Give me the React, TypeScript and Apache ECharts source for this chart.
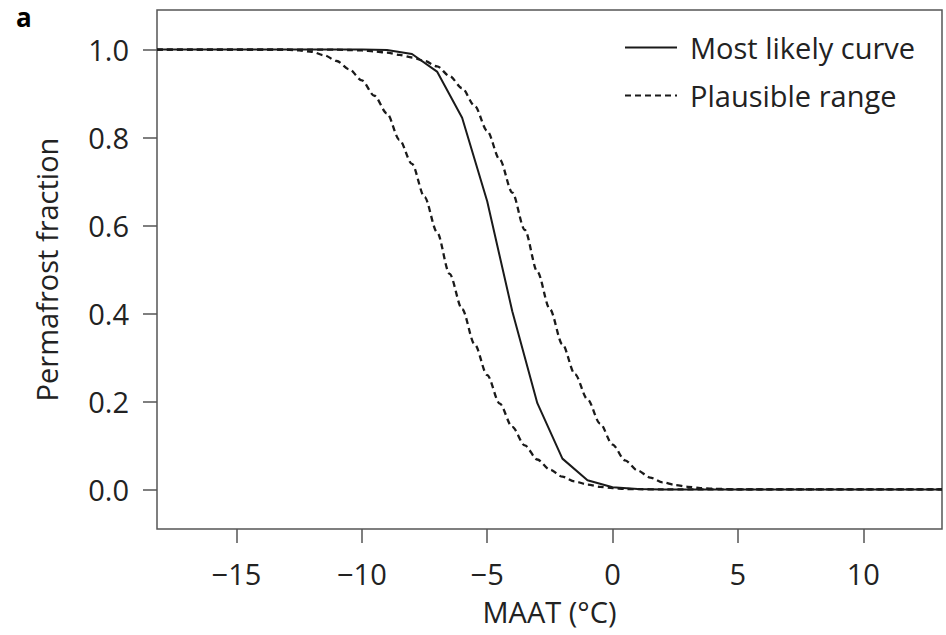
import React, { useEffect, useRef } from "react";
import * as echarts from "echarts";

const mostLikelyX = [-18.17, -17, -16, -15, -14, -13, -12, -11, -10, -9, -8, -7, -6, -5, -4, -3, -2, -1, 0, 1, 2, 3, 4, 5, 6, 7, 8, 9, 10, 11, 12, 13.14];
const mostLikelyY = [1, 1, 1, 1, 1, 1, 1, 1, 1, 0.999, 0.99, 0.95, 0.845, 0.655, 0.405, 0.196, 0.07, 0.021, 0.005, 0.001, 0, 0, 0, 0, 0, 0, 0, 0, 0, 0, 0, 0];

const lowerX = [-18.17, -13, -12.5, -12, -11.5, -11, -10.5, -10, -9.5, -9, -8.5, -8, -7.5, -7, -6.5, -6, -5.5, -5, -4.5, -4, -3.5, -3, -2.5, -2, -1.5, -1, -0.5, 0, 0.5, 1, 2, 13.14];
const lowerY = [1, 1, 0.998, 0.995, 0.987, 0.974, 0.955, 0.93, 0.895, 0.855, 0.795, 0.74, 0.665, 0.585, 0.49, 0.41, 0.33, 0.26, 0.195, 0.142, 0.1, 0.068, 0.045, 0.029, 0.018, 0.011, 0.006, 0.003, 0.001, 0.0005, 0, 0];

const upperX = [-18.17, -11, -10.5, -10, -9.5, -9, -8.5, -8, -7.5, -7, -6.5, -6, -5.5, -5, -4.5, -4, -3.5, -3, -2.5, -2, -1.5, -1, -0.5, 0, 0.5, 1, 1.5, 2, 2.5, 3, 3.5, 4, 5, 13.14];
const upperY = [1, 1, 0.999, 0.998, 0.996, 0.993, 0.988, 0.982, 0.974, 0.962, 0.94, 0.912, 0.872, 0.815, 0.75, 0.675, 0.59, 0.495, 0.41, 0.33, 0.262, 0.205, 0.15, 0.102, 0.066, 0.043, 0.027, 0.016, 0.01, 0.006, 0.003, 0.0015, 0, 0];

const xTicks = [-15, -10, -5, 0, 5, 10];
const yTicks = [0, 0.2, 0.4, 0.6, 0.8, 1.0];

const zip = (xs: number[], ys: number[]) => xs.map((x, i) => [x, ys[i]]);

const FONT = "Open Sans";
const FS = 29;
const TXT = "#222";
const AX = "#555";
const LINE = "#1a1a1a";

export default function App() {
  const ref = useRef<HTMLDivElement>(null);
  useEffect(() => {
    if (!ref.current) return;
    const chart = echarts.init(ref.current, undefined, { renderer: "svg" });
    chart.setOption({
      animation: false,
      backgroundColor: "#fff",
      textStyle: { fontFamily: FONT },
      grid: {
        left: 157,
        right: 4,
        top: 10,
        bottom: 106,
        show: true,
        borderColor: AX,
        borderWidth: 1.5,
        backgroundColor: "transparent",
      },
      legend: {
        orient: "vertical",
        left: 624,
        top: 33,
        itemWidth: 52,
        itemHeight: 14,
        itemGap: 19,
        padding: 0,
        itemStyle: { opacity: 0 },
        data: ["Most likely curve", "Plausible range"],
        textStyle: { fontFamily: FONT, fontSize: FS, color: TXT, padding: [0, 0, 0, 8] },
      },
      graphic: [
        {
          type: "text",
          left: 16,
          top: 4,
          style: { text: "a", fontFamily: FONT, fontWeight: "bold", fontSize: 26, fill: "#000" },
        },
      ],
      xAxis: {
        type: "value",
        min: -18.17,
        max: 13.14,
        splitLine: { show: false },
        axisLine: { show: false, onZero: false },
        axisTick: { show: true, inside: false, length: 14, lineStyle: { color: AX, width: 1.5 }, customValues: xTicks },
        axisLabel: {
          customValues: xTicks,
          margin: 30,
          fontSize: FS,
          color: TXT,
          fontFamily: FONT,
          formatter: (v: number) => (v < 0 ? "\u2212" + Math.abs(v) : String(v)),
        },
        name: "MAAT (\u00B0C)",
        nameLocation: "middle",
        nameGap: 68,
        nameTextStyle: { fontSize: FS, color: TXT, fontFamily: FONT },
      },
      yAxis: {
        type: "value",
        min: -0.09,
        max: 1.09,
        splitLine: { show: false },
        axisLine: { show: false, onZero: false },
        axisTick: { show: true, inside: false, length: 14, lineStyle: { color: AX, width: 1.5 }, customValues: yTicks },
        axisLabel: {
          customValues: yTicks,
          margin: 28,
          fontSize: FS,
          color: TXT,
          fontFamily: FONT,
          formatter: (v: number) => v.toFixed(1),
        },
        name: "Permafrost fraction",
        nameLocation: "middle",
        nameGap: 96,
        nameRotate: 90,
        nameTextStyle: { fontSize: FS, color: TXT, fontFamily: FONT },
      },
      series: [
        {
          name: "Most likely curve",
          type: "line",
          data: zip(mostLikelyX, mostLikelyY),
          symbol: "none",
          smooth: false,
          lineStyle: { color: LINE, width: 2, type: "solid" },
          itemStyle: { color: LINE },
        },
        {
          name: "Plausible range",
          type: "line",
          data: zip(lowerX, lowerY),
          symbol: "none",
          smooth: 0.3,
          smoothMonotone: "x",
          lineStyle: { color: LINE, width: 2.3, type: [6, 4] },
          itemStyle: { color: LINE },
        },
        {
          name: "Plausible range",
          type: "line",
          data: zip(upperX, upperY),
          symbol: "none",
          smooth: 0.3,
          smoothMonotone: "x",
          lineStyle: { color: LINE, width: 2.3, type: [6, 4] },
          itemStyle: { color: LINE },
        },
      ],
    });
    return () => chart.dispose();
  }, []);
  return (
    <div
      ref={ref}
      style={{ position: "fixed", left: 0, top: 0, width: 946, height: 635, background: "#fff" }}
    />
  );
}
